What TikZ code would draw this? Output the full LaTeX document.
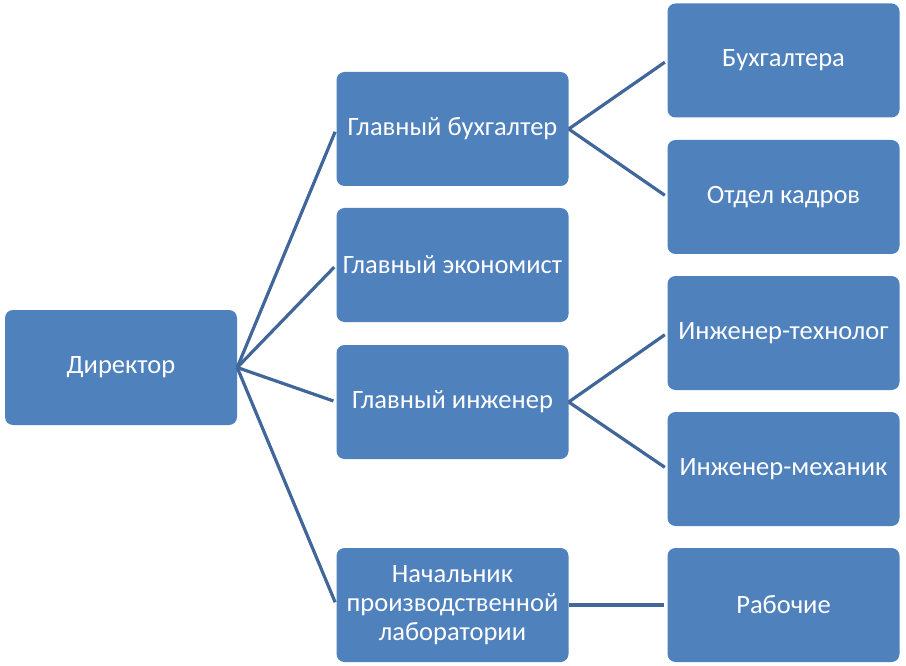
\documentclass[tikz,border=0pt]{standalone}
\usepackage{fontspec}
\setmainfont{Carlito}
\definecolor{boxblue}{HTML}{4F81BD}
\definecolor{linkblue}{HTML}{41679A}
\begin{document}
\begin{tikzpicture}[x=1pt,y=-1pt,
  box/.style={rectangle, rounded corners=8pt, fill=boxblue, draw=none,
    minimum width=232pt, minimum height=114pt, inner sep=1pt,
    text=white, font=\fontsize{26.5}{29}\selectfont, align=center},
  link/.style={draw=linkblue, line width=3.2pt, shorten >=3pt}]
\useasboundingbox (0,0) rectangle (906,666);
\node[box, minimum height=115pt] (dir) at (121,367.5) {Директор};
\node[box] (gb) at (452.5,129) {Главный бухгалтер};
\node[box] (ge) at (452.5,265) {Главный экономист};
\node[box] (gi) at (452.5,402) {Главный инженер};
\node[box] (nl) at (452.5,605) {Начальник\\производственной\\лаборатории};
\node[box] (bu) at (783.5,60.5) {Бухгалтера};
\node[box] (ok) at (783.5,197) {Отдел кадров};
\node[box] (it) at (783.5,333) {Инженер-технолог};
\node[box] (im) at (783.5,469) {Инженер-механик};
\node[box] (ra) at (783.5,605) {Рабочие};
\foreach \t in {gb,ge,gi,nl} \draw[link] (dir.east) -- (\t.west);
\draw[link] (gb.east) -- (bu.west);
\draw[link] (gb.east) -- (ok.west);
\draw[link] (gi.east) -- (it.west);
\draw[link] (gi.east) -- (im.west);
\draw[link] (nl.east) -- (ra.west);
\end{tikzpicture}
\end{document}
